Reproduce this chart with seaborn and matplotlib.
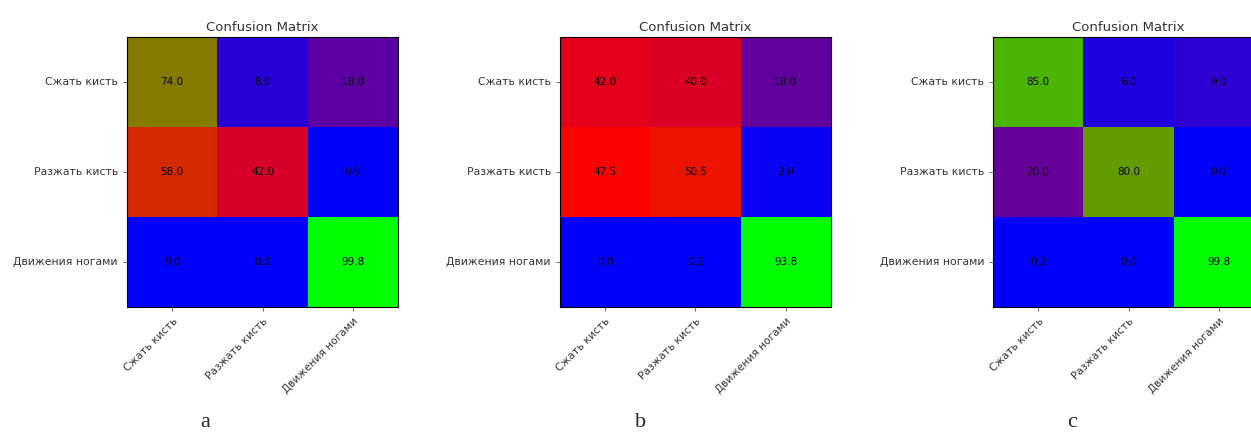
import numpy as np
import pandas as pd
import matplotlib
matplotlib.use("Agg")
import matplotlib.pyplot as plt
import seaborn as sns

# class labels (rows = true, cols = predicted)
classes = ["Сжать кисть", "Разжать кисть", "Движения ногами"]

# confusion matrices, percent
cm_a = [[74.0, 8.0, 18.0],
        [58.0, 42.0, 0.0],
        [0.0, 0.2, 99.8]]
cm_b = [[42.0, 40.0, 18.0],
        [47.5, 50.5, 2.0],
        [0.0, 0.2, 93.8]]
cm_c = [[85.0, 6.0, 9.0],
        [20.0, 80.0, 0.0],
        [0.2, 0.0, 99.8]]

captions = ["a", "b", "c"]
matrices = [cm_a, cm_b, cm_c]

sns.set_style("white")
plt.rcParams["font.family"] = ["DejaVu Sans"]

fig = plt.figure(figsize=(12.51, 4.38), dpi=100)

lefts = [0.1015, 0.4476, 0.7938]
caption_x = [0.164, 0.512, 0.857]

for i, cm in enumerate(matrices):
    ax = fig.add_axes([lefts[i], 0.299, 0.2167, 0.6164])
    df = pd.DataFrame(cm, index=classes, columns=classes)
    # colour scale follows each matrix's own min/max, like the original
    sns.heatmap(df, ax=ax, cmap="brg", cbar=False,
                annot=True, fmt=".1f",
                annot_kws={"color": "black", "fontsize": 7.5})
    ax.set_title("Confusion Matrix", fontsize=9.5, pad=4, color="#333333")
    ax.set_xticklabels(classes, rotation=45, ha="right",
                       rotation_mode="anchor", fontsize=7.6, color="#333333")
    ax.set_yticklabels(classes, rotation=0, fontsize=7.8, color="#333333")
    ax.tick_params(axis="both", length=3, width=0.6, color="#555555",
                   left=True, bottom=True)
    for sp in ax.spines.values():
        sp.set_visible(True)
        sp.set_color("black")
        sp.set_linewidth(0.8)
    fig.text(caption_x[i], 0.025, captions[i], ha="center",
             fontsize=16, family="Liberation Serif")

fig.savefig("out.png", dpi=100)
